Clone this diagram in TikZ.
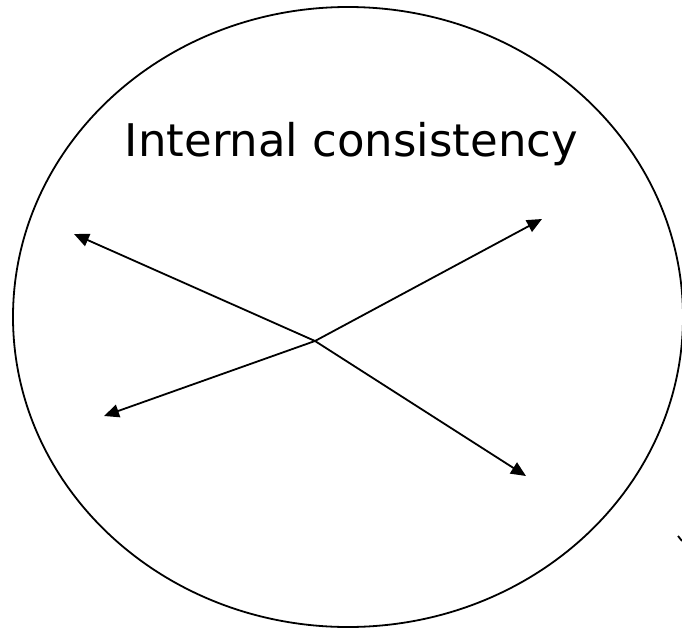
\documentclass[tikz,border=0pt]{standalone}
\usepackage{fontspec}
\setmainfont{DejaVu Sans}
\usepackage{tikz}
\usetikzlibrary{arrows.meta}

\begin{document}
\begin{tikzpicture}[x=1pt,y=-1pt,line width=1.8pt,
  >={Triangle[length=15pt,width=13pt]}]
  \useasboundingbox (0,0) rectangle (682,629);
  % outer ellipse
  \draw (348,317) ellipse [x radius=335, y radius=310];
  \node[font=\fontsize{45}{52}\selectfont,anchor=base west,inner sep=0pt] (title) at (124,156) {Internal consistency};
  % centre and arrow end points
  \coordinate (c) at (315,341);
  \coordinate (ul) at (74,234);
  \coordinate (lr) at (526,476);
  \coordinate (ll) at (104,416);
  \coordinate (ur) at (542,219);
  \foreach \p in {ul,lr,ll,ur}
    \draw[->] (c) -- (\p);
  % small tick at right edge
  \draw (678,536) -- (682,541);
\end{tikzpicture}
\end{document}
